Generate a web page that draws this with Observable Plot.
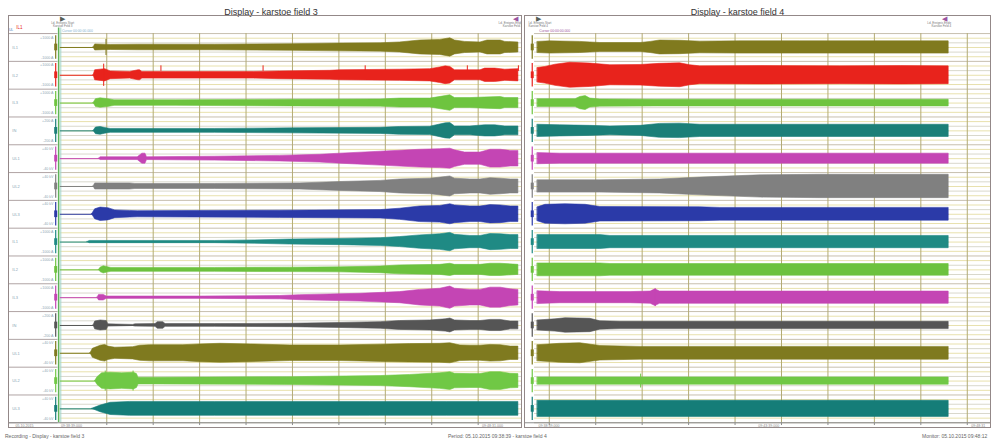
<!DOCTYPE html>
<html><head><meta charset="utf-8">
<script src="https://cdn.jsdelivr.net/npm/d3@7"></script>
<script src="https://cdn.jsdelivr.net/npm/@observablehq/plot@0.6"></script>
<style>
body{margin:0;background:#fff;font-family:"Liberation Sans",Arial,sans-serif;}
#wrap{width:993px;height:439px;position:relative;overflow:hidden;background:#fff}
#row{display:flex;height:431px}
#row svg{display:block}
#foot{position:relative;height:8px;font-size:5px;color:#666}
#foot span{position:absolute;top:2px;white-space:nowrap}
</style></head><body>
<div id="wrap"><div id="row"></div><div id="foot"></div></div>
<script>
// ---------- data ----------
const channelNames = ["IL1","IL2","IL3","IN","UL1","UL2","UL3","IL1","IL2","IL3","IN","UL1","UL2","UL3"];
const rangeTop = ["+1000 A","+1000 A","+1000 A","+200 A","+40 kV","+40 kV","+40 kV","+1000 A","+1000 A","+1000 A","+200 A","+40 kV","+40 kV","+40 kV"];
const rangeBottom = ["-1000 A","-1000 A","-1000 A","-200 A","-40 kV","-40 kV","-40 kV","-1000 A","-1000 A","-1000 A","-200 A","-40 kV","-40 kV","-40 kV"];
const channelColors = ["#807a1e","#e8231c","#6ec43f","#1b7f78","#c445b4","#808080","#2b3aa8","#1f8a84","#6cc23e","#c445b4","#555555","#7f7a1f","#70c845","#157d78"];
const gridTimes = [60,120,180,240,300,360,420,480,540,600];
const panelTitles = ["Display - karstoe field 3","Display - karstoe field 4"];

// envelopes: [time s, half amplitude in % of channel pitch]
const leftEnvelopes = [
 [[43,0],[45,11],[65,9],[100,10],[200,10],[300,12],[362,14],[414,15],[439,18],[465,25],[491,27],[504,33],[510,25],[523,20],[543,18],[552,25],[569,25],[575,20],[592,18]],
 [[43,0],[45,18],[58,22],[65,14],[90,12],[101,18],[103,18],[106,12],[150,12],[250,12],[284,14],[349,16],[362,18],[439,20],[478,22],[491,28],[498,32],[504,30],[510,18],[517,18],[530,18],[543,18],[549,24],[562,24],[569,22],[575,20],[592,22]],
 [[43,0],[46,14],[52,17],[62,14],[70,10],[150,10],[300,12],[414,13],[439,16],[478,16],[498,25],[504,28],[510,18],[530,18],[549,20],[569,22],[575,18],[592,18]],
 [[43,0],[46,12],[52,14],[58,10],[65,7],[200,7],[300,9],[414,11],[439,14],[478,15],[498,27],[504,28],[510,16],[530,16],[549,20],[562,20],[575,16],[592,16]],
 [[50,0],[52,5],[100,5],[106,18],[110,18],[112,5],[200,7],[284,10],[336,14],[362,18],[414,25],[465,32],[491,34],[504,36],[510,30],[523,22],[543,22],[556,32],[569,32],[582,28],[592,28]],
 [[43,0],[45,11],[90,11],[97,9],[200,9],[310,11],[362,16],[414,20],[439,25],[478,28],[498,34],[504,36],[510,28],[530,25],[543,25],[556,30],[569,28],[582,25],[592,25]],
 [[41,0],[45,18],[52,24],[62,22],[71,14],[90,12],[100,11],[284,13],[414,15],[439,20],[465,28],[491,30],[504,36],[510,32],[530,28],[543,28],[556,33],[569,32],[582,28],[592,28]],
 [[35,0],[38,4],[200,4],[252,6],[297,9],[362,11],[414,14],[439,18],[465,24],[491,28],[504,33],[510,26],[530,22],[543,22],[556,29],[569,28],[582,25],[592,25]],
 [[50,0],[52,8],[56,13],[62,9],[66,7],[200,7],[297,8],[362,9],[414,12],[439,16],[491,18],[504,22],[510,18],[543,18],[556,22],[569,22],[592,18]],
 [[48,0],[50,10],[56,10],[60,4],[181,4],[284,6],[310,9],[388,14],[439,20],[465,28],[491,32],[504,40],[510,32],[530,28],[543,28],[556,36],[569,36],[582,30],[592,28]],
 [[43,0],[45,14],[52,18],[60,16],[62,4],[94,2],[97,4],[123,5],[126,12],[133,12],[136,5],[200,5],[297,6],[362,9],[414,12],[439,16],[478,18],[498,22],[504,25],[510,18],[530,16],[543,16],[556,20],[569,20],[582,14],[592,14]],
 [[39,0],[42,16],[52,27],[58,30],[62,24],[71,20],[94,22],[103,27],[116,29],[159,29],[181,32],[207,34],[246,32],[297,28],[362,28],[414,31],[452,33],[491,34],[504,36],[517,28],[530,27],[543,27],[556,30],[569,29],[582,24],[592,24]],
 [[45,0],[48,14],[54,28],[65,30],[80,28],[95,30],[99,25],[101,12],[120,12],[300,14],[414,18],[452,22],[491,28],[504,32],[510,26],[530,25],[543,25],[556,32],[569,32],[582,26],[592,25]],
 [[41,0],[52,12],[65,22],[90,25],[200,25],[300,25],[400,25],[500,25],[592,25]]
];
const rightEnvelopes = [
 [[45,20],[61,22],[100,20],[113,18],[126,16],[178,16],[191,20],[203,25],[229,24],[255,21],[307,22],[384,22],[462,22],[539,22],[576,22]],
 [[45,26],[55,30],[68,38],[87,45],[113,42],[139,36],[178,37],[203,41],[229,43],[242,36],[255,32],[333,33],[436,32],[514,33],[576,32]],
 [[45,14],[94,14],[100,22],[107,25],[113,16],[126,13],[200,12],[576,12]],
 [[45,22],[74,20],[113,18],[139,16],[178,18],[203,25],[229,26],[255,22],[576,22]],
 [[45,20],[74,18],[576,18]],
 [[45,22],[126,22],[203,25],[255,32],[333,40],[410,42],[576,42]],
 [[45,25],[55,34],[81,36],[107,34],[126,26],[255,25],[281,23],[576,23]],
 [[45,25],[126,25],[139,22],[576,22]],
 [[45,23],[126,23],[139,21],[576,21]],
 [[45,23],[74,20],[165,20],[191,22],[197,30],[203,22],[229,22],[576,22]],
 [[45,18],[68,22],[81,26],[113,24],[126,15],[152,13],[576,13]],
 [[45,29],[74,34],[100,36],[126,26],[178,23],[576,23]],
 [[45,13],[576,13]],
 [[45,29],[576,29]]
];
// spikes: [channel, time, half amplitude %]
const leftSpikes = [[1,59,29],[2,56,40],[13,58,36],[13,94,36]];
const leftTicks = [[2,130],[2,262],[2,394],[2,526],[2,592]];
const rightSpikes = [[10,197,32],[13,178,25]];
// markers: time, kind, label lines
const leftMarkers = [{t:3, kind:"start", lines:["Ld. Ereignis Start","Karstoe Feld 3"]},{t:588, kind:"end", lines:["Ld. Ereignis Ende","Karstoe Feld 3"]}];
const rightMarkers = [{t:46, kind:"start", lines:["Ld. Ereignis Start","Karstoe Feld 4"]},{t:570, kind:"end", lines:["Ld. Ereignis Ende","Karstoe Feld 4"]}];
const footerTexts = ["Recording - Display - karstoe field 3","Period: 05.10.2015 09:38:39 - karstoe field 4","Monitor: 05.10.2015 09:48:12"];

// ---------- drawing ----------
function panel(o){
  const ch = d3.range(1,15);
  const stripes = d3.range(0,85).map(k => ({k, y: 0.5 + k/6}));
  const marks = [];
  marks.push(Plot.frame({fill:"#fff", stroke:"none"}));
  marks.push(Plot.ruleY(stripes.filter(s=>s.k%6!==0 && s.k%2===1), {y:"y", x1:o.gridStart, x2:o.xDomain[1], stroke:"#e8e1ad", strokeWidth:1}));
  marks.push(Plot.ruleY(stripes.filter(s=>s.k%6!==0 && s.k%2===0), {y:"y", x1:o.gridStart, x2:o.xDomain[1], stroke:"#d9d8cc", strokeWidth:1}));
  marks.push(Plot.ruleY(stripes.filter(s=>s.k%6===0), {y:"y", x1:o.gridStart, x2:o.xDomain[1], stroke:"#c7bfae", strokeWidth:1}));
  marks.push(Plot.ruleX(gridTimes.filter(t=>t>o.gridStart && t<o.xDomain[1]), {x:d=>d, y1:0.5, y2:14.5, stroke:"#b3ab74", strokeWidth:1}));
  if (o.labels){
    marks.push(Plot.ruleY(d3.range(0,15).map(k=>0.5+k), {y:d=>d, x1:-67, x2:-3, stroke:"#b0a4a4", strokeWidth:1}));
    marks.push(Plot.text(channelNames, {x:-62, y:(d,i)=>i+1, text:d=>d, textAnchor:"start", fontSize:4, fill:"#8aa6b4"}));
    marks.push(Plot.text(rangeTop, {x:-9, y:(d,i)=>i+1-0.36, text:d=>d, textAnchor:"end", fontSize:3.6, fill:"#8aa6b4"}));
    marks.push(Plot.text(rangeBottom, {x:-9, y:(d,i)=>i+1+0.36, text:d=>d, textAnchor:"end", fontSize:3.6, fill:"#8aa6b4"}));
    marks.push(Plot.text(["IL1"], {x:-57, y:0.27, text:d=>d, textAnchor:"start", fontSize:4.5, fill:"#e8231c"}));
    marks.push(Plot.text(["UL"], {x:-66.5, y:0.38, text:d=>d, textAnchor:"start", fontSize:3.4, fill:"#4a7fc0"}));
    marks.push(Plot.ruleX([-2.2], {y1:0.3, y2:14.5, stroke:"#5db35a", strokeWidth:1.5}));
    marks.push(Plot.ruleX([0.6], {y1:0.3, y2:14.5, stroke:"#a6d8cc", strokeWidth:1}));
    marks.push(Plot.text(["Cursor 00:00:00.000"], {x:2, y:0.42, text:d=>d, textAnchor:"start", fontSize:3.4, fill:"#7fb3d0"}));
  } else {
    marks.push(Plot.text(["Cursor 00:00:00.000"], {x:47, y:0.42, text:d=>d, textAnchor:"start", fontSize:3.4, fill:"#9b55a0"}));
  }
  // scale bars
  ch.forEach(c=>{
    marks.push(Plot.ruleX([o.barT], {y1:c-0.42, y2:c+0.42, stroke:channelColors[c-1], strokeWidth:1.2}));
    marks.push(Plot.ruleX([o.barT], {y1:c-0.12, y2:c+0.12, stroke:channelColors[c-1], strokeWidth:3}));
  });
  // traces
  ch.forEach(c=>{
    const col = channelColors[c-1];
    marks.push(Plot.ruleY([c], {x1:o.traceStart, x2:o.traceEnd, stroke:col, strokeWidth:1}));
    marks.push(Plot.area(o.env[c-1], {x1:d=>d[0], y1:d=>c-d[1]/100, y2:d=>c+d[1]/100, fill:col, stroke:col, strokeWidth:0.6}));
  });
  o.spikes.forEach(s=>{
    marks.push(Plot.ruleX([s], {x:d=>d[1], y1:d=>d[0]-d[2]/100, y2:d=>d[0]+d[2]/100, stroke:channelColors[s[0]-1], strokeWidth:1}));
  });
  o.ticks.forEach(s=>{
    marks.push(Plot.ruleX([s], {x:d=>d[1], y1:d=>d[0]-0.34, y2:d=>d[0]-0.14, stroke:channelColors[s[0]-1], strokeWidth:1}));
  });
  // bottom time strip
  marks.push(Plot.ruleY([14.5], {x1:o.xDomain[0], x2:o.xDomain[1], stroke:"#8c8c8c", strokeWidth:1}));
  marks.push(Plot.ruleX(gridTimes.filter(t=>t>o.gridStart && t<o.xDomain[1]), {x:d=>d, y1:14.5, y2:14.6, stroke:"#8c8c8c"}));
  marks.push(Plot.text(o.timeLabels, {x:d=>d.t, y:14.6, text:d=>d.s, textAnchor:"start", fontSize:3.6, fill:"#888"}));
  // markers
  o.markers.forEach(m=>{
    const isEnd = m.kind === "end";
    const anchor = isEnd ? "end" : o.startAnchor;
    const tdx = isEnd ? 7 : o.startDx;
    marks.push(Plot.text([m], {x:d=>d.t, y:-0.04, text:()=> isEnd ? "◀" : "▶", fontSize:7, fill: isEnd ? "#9b55a0" : "#56605a"}));
    marks.push(Plot.text([m], {x:d=>d.t, y:0.13, dx:tdx, textAnchor:anchor, text:d=>d.lines[0], fontSize:3, fill:"#777"}));
    marks.push(Plot.text([m], {x:d=>d.t, y:0.24, dx:tdx, textAnchor:anchor, text:d=>d.lines[1], fontSize:3, fill:"#777"}));
  });
  marks.push(Plot.text([o.title], {frameAnchor:"top", dy:-7, dx:o.titleDx, text:d=>d, fontSize:9, fill:"#333", fontFamily:"Liberation Sans, Arial, sans-serif"}));
  marks.push(Plot.frame({stroke:"#938888", strokeWidth:1}));
  return Plot.plot({
    width:o.width, height:431, marginTop:15, marginBottom:4, marginLeft:o.ml, marginRight:o.mr,
    x:{domain:o.xDomain, axis:null},
    y:{domain:[-0.15,14.67], reverse:true, axis:null},
    style:{background:"#fff", overflow:"visible", fontFamily:"Liberation Sans, Arial, sans-serif"},
    marks
  });
}

const row = document.getElementById("row");
row.appendChild(panel({width:522, ml:8, mr:1, xDomain:[-67,596], gridStart:0, traceStart:0, traceEnd:592, barT:-6,
  env:leftEnvelopes, spikes:leftSpikes, ticks:leftTicks, labels:true, markers:leftMarkers, title:panelTitles[0], titleDx:6,
  startAnchor:"middle", startDx:0,
  timeLabels:[{t:-58, s:"05.10.2015"},{t:1, s:"09:38:39.000"},{t:545, s:"09:48:31.000"}]}));
row.appendChild(panel({width:471, ml:2, mr:3, xDomain:[28,630], gridStart:41, traceStart:45, traceEnd:576, barT:38,
  env:rightEnvelopes, spikes:rightSpikes, ticks:[], labels:false, markers:rightMarkers, title:panelTitles[1], titleDx:-20,
  startAnchor:"start", startDx:-10,
  timeLabels:[{t:46, s:"09:38:39.000"},{t:330, s:"09:43:39.000"},{t:605, s:"09:48:31"}]}));

const foot = document.getElementById("foot");
[[5,footerTexts[0]],[448,footerTexts[1]],[922,footerTexts[2]]].forEach(([l,s])=>{
  const sp = document.createElement("span"); sp.style.left = l+"px"; sp.textContent = s; foot.appendChild(sp);
});
</script></body></html>
